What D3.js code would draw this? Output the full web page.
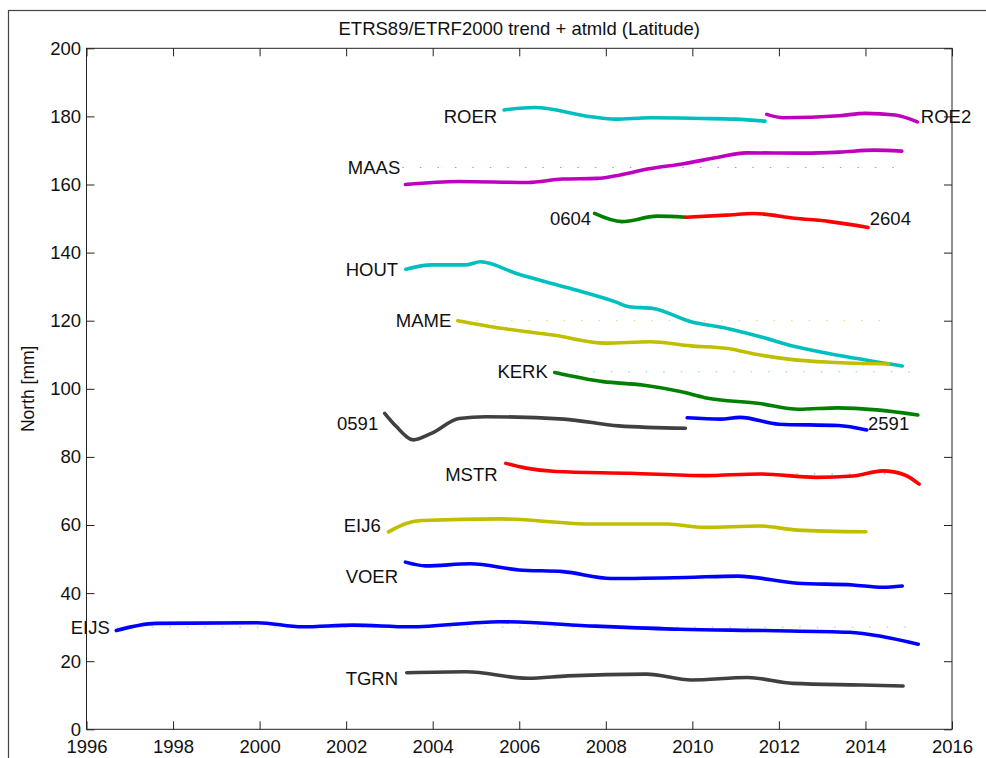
<!DOCTYPE html>
<html><head><meta charset="utf-8">
<script src="https://cdn.jsdelivr.net/npm/d3@7"></script>
<style>body{margin:0;background:#fff}</style>
</head><body>
<svg id="chart" width="986" height="758"></svg>
<script>
// ---------- data ----------
const xTicks = [1996,1998,2000,2002,2004,2006,2008,2010,2012,2014,2016];
const yTicks = [0,20,40,60,80,100,120,140,160,180,200];

const ROER = [[2005.65,181.9],[2006.36,182.6],[2007.66,179.9],[2008.21,179.2],[2009.02,179.6],[2010.2,179.4],[2011.0,179.2],[2011.68,178.6]];
const ROE2 = [[2011.72,180.6],[2012.1,179.6],[2013.4,180.2],[2014.0,180.9],[2014.68,180.4],[2015.2,178.4]];
const MAAS = [[2003.37,160.0],[2004.6,160.9],[2006.2,160.6],[2007.0,161.6],[2007.8,161.8],[2008.2,162.5],[2009.0,164.6],[2009.8,166.1],[2010.6,168.0],[2011.24,169.3],[2012.6,169.2],[2013.4,169.5],[2014.2,170.1],[2014.84,169.8]];
const S0604 = [[2007.74,151.5],[2008.37,149.1],[2009.18,150.7],[2009.85,150.4]];
const S2604 = [[2009.85,150.4],[2010.78,151.0],[2011.42,151.5],[2012.37,150.1],[2013.18,149.1],[2014.06,147.4]];
const HOUT = [[2003.38,135.1],[2003.98,136.4],[2004.78,136.4],[2005.1,137.3],[2005.97,133.7],[2007.17,129.5],[2008.21,125.6],[2008.53,124.1],[2009.09,123.6],[2009.97,119.7],[2010.78,117.8],[2011.57,115.3],[2012.37,112.4],[2013.57,109.4],[2014.85,106.7]];
const MAME = [[2004.58,120.0],[2005.58,117.8],[2006.78,115.8],[2007.98,113.4],[2009.02,113.8],[2009.97,112.6],[2010.78,111.9],[2011.57,109.9],[2012.37,108.5],[2013.18,107.8],[2014.53,107.3]];
const KERK = [[2006.82,104.8],[2007.94,102.1],[2008.85,101.1],[2009.75,99.1],[2010.29,97.4],[2011.55,95.7],[2012.46,94.0],[2013.36,94.4],[2014.26,93.8],[2015.21,92.3]];
const S0591 = [[2002.89,92.8],[2003.16,88.9],[2003.55,85.0],[2003.97,86.9],[2004.61,91.3],[2005.23,91.8],[2007.03,91.1],[2008.30,89.1],[2009.84,88.4]];
const S2591 = [[2009.88,91.5],[2010.65,91.1],[2011.1,91.6],[2012.0,89.6],[2013.37,89.2],[2014.03,87.9]];
const MSTR = [[2005.69,78.1],[2006.16,76.7],[2006.85,75.7],[2008.56,75.2],[2010.28,74.5],[2011.56,75.0],[2012.86,74.0],[2013.71,74.4],[2014.4,75.9],[2014.91,74.7],[2015.24,72.0]];
const EIJ6 = [[2002.98,58.0],[2003.4,60.5],[2003.75,61.3],[2005.55,61.8],[2007.7,60.3],[2009.41,60.3],[2010.28,59.3],[2011.56,59.7],[2012.43,58.5],[2014.01,58.0]];
const VOER = [[2003.37,49.1],[2003.84,48.0],[2004.87,48.6],[2005.99,46.8],[2007.01,46.3],[2008.13,44.3],[2009.85,44.6],[2011.05,45.0],[2012.43,42.9],[2013.71,42.4],[2014.4,41.7],[2014.85,42.1]];
const EIJS = [[1996.69,29.0],[1997.6,31.1],[1999.95,31.3],[2000.99,30.1],[2002.16,30.6],[2003.47,30.1],[2005.55,31.6],[2007.77,30.3],[2009.72,29.4],[2011.68,29.0],[2013.63,28.5],[2014.41,27.2],[2015.22,25.0]];
const TGRN = [[2003.4,16.6],[2004.77,16.9],[2006.2,15.0],[2007.12,15.7],[2008.94,16.2],[2009.98,14.5],[2011.28,15.2],[2012.32,13.5],[2013.9,13.0],[2014.87,12.7]];

const seriesList = [
  {data: ROER, color: "#00bfbf"}, {data: ROE2, color: "#bf00bf"},
  {data: MAAS, color: "#bf00bf"},
  {data: S0604, color: "#008000"}, {data: S2604, color: "#ff0000"},
  {data: HOUT, color: "#00bfbf"}, {data: MAME, color: "#bfbf00"},
  {data: KERK, color: "#008000"},
  {data: S0591, color: "#404040"}, {data: S2591, color: "#0000ff"},
  {data: MSTR, color: "#ff0000"}, {data: EIJ6, color: "#bfbf00"},
  {data: VOER, color: "#0000ff"}, {data: EIJS, color: "#0000ff"},
  {data: TGRN, color: "#404040"}
];

// station labels: [text, year, value, anchor]
const stationLabels = [
  ["ROER",2005.49,180,"end"],["ROE2",2015.28,180,"start"],
  ["MAAS",2003.25,165,"end"],
  ["0604",2007.66,150,"end"],["2604",2014.1,150,"start"],
  ["HOUT",2003.2,135,"end"],["MAME",2004.43,120,"end"],
  ["KERK",2006.66,105,"end"],
  ["0591",2002.74,90,"end"],["2591",2014.06,90,"start"],
  ["MSTR",2005.5,75,"end"],["EIJ6",2002.8,60,"end"],
  ["VOER",2003.2,45,"end"],["EIJS",1996.54,30,"end"],
  ["TGRN",2003.2,15,"end"]
];

// faint reference levels: [value, from, to, color]
const refLevels = [
  [165,2003.3,2014.8,"#bf00bf"],[120,2004.6,2014.6,"#bfbf00"],
  [105,2006.9,2015.2,"#00bfbf"],[75,2012.0,2015.2,"#bf00bf"],
  [30,1996.7,2015.2,"#00bfbf"]
];

const titleText = "ETRS89/ETRF2000 trend + atmld (Latitude)";
const yLabel = "North [mm]";

// ---------- drawing ----------
const svg = d3.select("#chart");
const FONT = "'Liberation Sans', Arial, Helvetica, sans-serif";
const L = 86.5, R = 952, T = 48.3, B = 729.3;
const x = d3.scaleLinear().domain([1996,2016]).range([L,R]);
const y = d3.scaleLinear().domain([0,200]).range([B,T]);

svg.append("rect").attr("width",986).attr("height",758).attr("fill","#fff");
// outer figure frame
svg.append("rect").attr("x",8.5).attr("y",10.5).attr("width",1000).attr("height",800)
  .attr("fill","none").attr("stroke","#444").attr("stroke-width",1.2);

// reference dotted levels
svg.append("g").selectAll("line").data(refLevels).join("line")
  .attr("x1",d=>x(d[1])).attr("x2",d=>x(d[2]))
  .attr("y1",d=>y(d[0])).attr("y2",d=>y(d[0]))
  .attr("stroke",d=>d[3]).attr("stroke-width",1).attr("stroke-opacity",0.55)
  .attr("stroke-dasharray","1.5 16");

// series
const line = d3.line().x(d=>x(d[0])).y(d=>y(d[1])).curve(d3.curveMonotoneX);
svg.append("g").selectAll("path").data(seriesList).join("path")
  .attr("d",d=>line(d.data)).attr("fill","none")
  .attr("stroke",d=>d.color).attr("stroke-width",3.6)
  .attr("stroke-linecap","round").attr("stroke-linejoin","round");

// axes
const axColor = "#222";
function styleAxis(g){
  g.select(".domain").remove();
  g.selectAll("line").attr("stroke",axColor);
  g.selectAll("text").attr("font-family",FONT).attr("font-size",18.5).attr("fill","#111");
}
svg.append("g").attr("transform",`translate(0,${B})`)
  .call(d3.axisBottom(x).tickValues(xTicks).tickFormat(d3.format("d")).tickSizeInner(-8).tickSizeOuter(0).tickPadding(10.5))
  .call(styleAxis);
svg.append("g").attr("transform",`translate(0,${T})`)
  .call(d3.axisTop(x).tickValues(xTicks).tickFormat("").tickSizeInner(-8).tickSizeOuter(0))
  .call(styleAxis);
svg.append("g").attr("transform",`translate(${L},0)`)
  .call(d3.axisLeft(y).tickValues(yTicks).tickFormat(d3.format("d")).tickSizeInner(-8).tickSizeOuter(0).tickPadding(5.5))
  .call(styleAxis);
svg.append("g").attr("transform",`translate(${R},0)`)
  .call(d3.axisRight(y).tickValues(yTicks).tickFormat("").tickSizeInner(-8).tickSizeOuter(0))
  .call(styleAxis);

// plot box
svg.append("rect").attr("x",L).attr("y",T).attr("width",R-L).attr("height",B-T)
  .attr("fill","none").attr("stroke",axColor).attr("stroke-width",1);

// station labels
svg.append("g").selectAll("text").data(stationLabels).join("text")
  .attr("x",d=>x(d[1])).attr("y",d=>y(d[2])).attr("dy","0.36em")
  .attr("text-anchor",d=>d[3]).attr("font-family",FONT).attr("font-size",18.5)
  .attr("fill","#111").text(d=>d[0]);

// title
svg.append("text").attr("x",(L+R)/2).attr("y",35).attr("text-anchor","middle")
  .attr("font-family",FONT).attr("font-size",18.5).attr("fill","#111").text(titleText);

// y label
svg.append("text").attr("transform",`translate(34,${(T+B)/2}) rotate(-90)`)
  .attr("text-anchor","middle").attr("font-family",FONT).attr("font-size",17.5)
  .attr("fill","#111").text(yLabel);
</script>
</body></html>
